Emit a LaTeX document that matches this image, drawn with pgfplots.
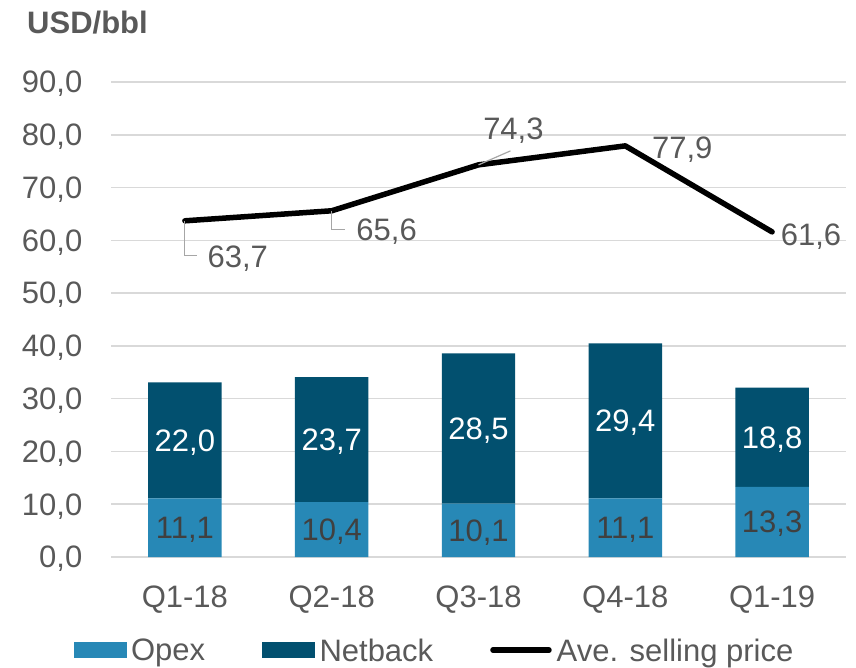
\documentclass[border=0pt]{standalone}
\usepackage{fontspec}
\setmainfont{Liberation Sans}
\usepackage{pgfplots}
\usepackage{pgfplotstable}
\pgfplotsset{compat=1.18}
\definecolor{opexcol}{HTML}{2788B6}
\definecolor{netcol}{HTML}{02506F}
\definecolor{txtgray}{HTML}{595959}
\definecolor{lbldark}{HTML}{404040}
\definecolor{gridcol}{HTML}{D9D9D9}
\definecolor{leadcol}{HTML}{A6A6A6}

\newcommand{\bigf}{\fontsize{31}{37}\selectfont}

% stacked bars
\pgfplotstableread{
x opex netback
0 11.1 22.0
1 10.4 23.7
2 10.1 28.5
3 11.1 29.4
4 13.3 18.8
}\bartab

% average selling price, with label offsets (pt)
\pgfplotstableread{
x y lbl dx dy
0 63.7 63,7 20 -36
1 65.6 65,6 22 -19
2 74.3 74,3 2 36
3 77.9 77,9 24 -2
4 61.6 61,6 6 -3
}\linetab

% label positions at segment centres
\pgfplotstableread{
x y lbl
0 5.55 11,1
1 5.2 10,4
2 5.05 10,1
3 5.55 11,1
4 6.65 13,3
}\opexlbl
\pgfplotstableread{
x y lbl
0 22.1 22,0
1 22.25 23,7
2 24.35 28,5
3 25.8 29,4
4 22.7 18,8
}\netlbl

\pgfplotsset{
  common/.style={
    scale only axis, width=734pt, height=475pt,
    at={(0pt,0pt)}, anchor=south west,
    xmin=-0.5, xmax=4.5, ymin=0, ymax=90,
  },
  boxlegend/.style={legend image code/.code={\fill[##1] (0pt,-7.5pt) rectangle (52pt,7.5pt);}},
  linelegend/.style={legend image code/.code={\draw[##1] (0pt,0pt) -- (56pt,0pt);}},
}

\begin{document}
\begin{tikzpicture}
\path[use as bounding box] (-111.5pt,-110pt) rectangle (744.5pt,557pt);

\begin{axis}[
    common,
    ybar stacked,
    bar width=73.4pt,
    axis line style={draw=none},
    major tick length=0pt,
    ytick={0,10,...,90},
    xtick={0,1,2,3,4},
    xticklabels={Q1-18,Q2-18,Q3-18,Q4-18,Q1-19},
    ymajorgrids,
    grid style={gridcol, line width=1.5pt},
    tick label style={font=\bigf, text=txtgray},
    yticklabel style={anchor=east, inner sep=0pt, xshift=-29pt, text depth=0pt},
    xticklabel style={anchor=north, inner sep=0pt, yshift=-29pt},
    /pgf/number format/.cd, fixed, fixed zerofill, precision=1, use comma, assume math mode=true,
]
\addplot[fill=opexcol, draw=none] table[x=x, y=opex] \bartab;
\addplot[fill=netcol, draw=none] table[x=x, y=netback] \bartab;
\end{axis}

\begin{axis}[
    common,
    hide axis,
    clip=false,
    legend columns=3,
    legend style={at={(0.4387,-0.196)}, anchor=center, draw=none, fill=none,
      font=\bigf, text=txtgray, inner sep=0pt,
      nodes={inner sep=0pt, text depth=0pt},
      /tikz/every odd column/.append style={column sep=5pt},
      /tikz/every even column/.append style={column sep=57pt}},
]
\addlegendimage{boxlegend, opexcol}
\addlegendentry{Opex}
\addlegendimage{boxlegend, netcol}
\addlegendentry{Netback}

\addplot[black, line width=5.5pt, line join=round, line cap=round, mark=none, linelegend,
    nodes near coords, point meta=explicit symbolic,
    visualization depends on={\thisrow{dx} \as \lbldx},
    visualization depends on={\thisrow{dy} \as \lbldy},
    every node near coord/.append style={anchor=west, inner sep=0pt, text depth=0pt,
      font=\bigf, text=txtgray, xshift=\lbldx pt, yshift=\lbldy pt}]
  table[x=x, y=y, meta=lbl] \linetab;
\addlegendentry{Ave. selling price}

\addplot[draw=none, mark=none, forget plot,
    nodes near coords, point meta=explicit symbolic,
    every node near coord/.append style={anchor=center, inner sep=0pt, text depth=0pt,
      font=\bigf, text=lbldark}]
  table[x=x, y=y, meta=lbl] \opexlbl;
\addplot[draw=none, mark=none, forget plot,
    nodes near coords, point meta=explicit symbolic,
    every node near coord/.append style={anchor=center, inner sep=0pt, text depth=0pt,
      font=\bigf, text=white}]
  table[x=x, y=y, meta=lbl] \netlbl;

% leader lines of the price labels
\draw[leadcol, line width=1.2pt] (axis cs:0,63.7) -- ++(0pt,-35pt) -- ++(12pt,0pt);
\draw[leadcol, line width=1.2pt] (axis cs:1,65.6) -- ++(0pt,-19pt) -- ++(13pt,0pt);
\draw[leadcol, line width=1.2pt] (axis cs:2,74.3) -- ++(32pt,14pt);

\node[anchor=base west, inner sep=0pt, font=\bigf\bfseries, text=txtgray]
  at (rel axis cs:0,1) [xshift=-84.5pt, yshift=49pt] {USD/bbl};
\end{axis}
\end{tikzpicture}
\end{document}
